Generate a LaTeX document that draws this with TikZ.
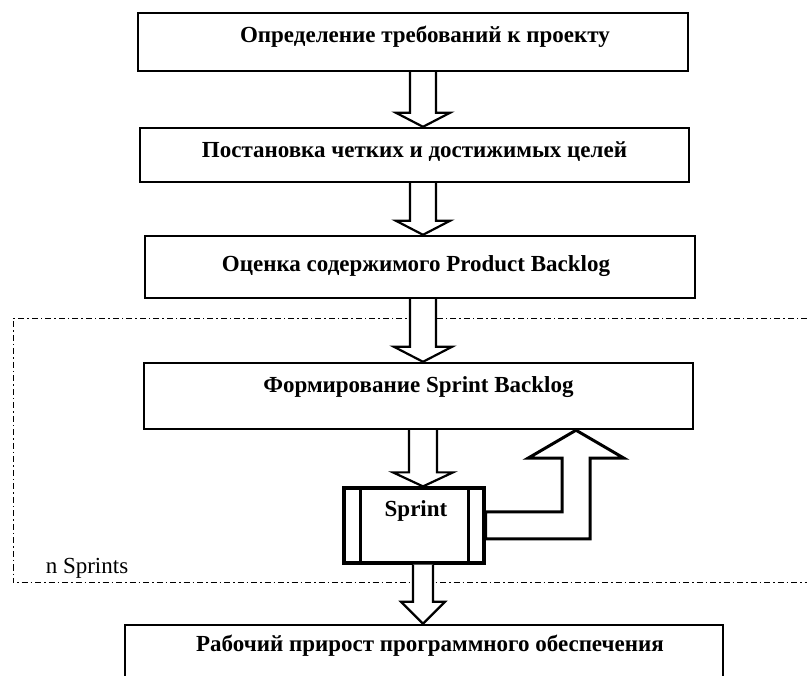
\documentclass[tikz,border=0pt]{standalone}
\usepackage{fontspec}
\setmainfont{Liberation Serif}
\usepackage{tikz}
\usetikzlibrary{calc}
\usetikzlibrary{positioning}
\tikzset{
  stage/.style = {rectangle, draw=black, line width=2.4pt, inner sep=0pt},% etap
  stagetxt/.style = {anchor=base, inner sep=0pt,
    font=\bfseries\fontsize{23}{27}\selectfont},
  sprintbox/.style = {rectangle, draw=black, line width=3.2pt, inner sep=0pt,
    minimum width=140pt, minimum height=75pt},
  blockarr/.style = {draw=black, fill=white, line width=2.2pt, line join=miter},
  sprintzone/.style = {draw=black, line width=1pt,
    dash pattern=on 6pt off 3pt on 1.5pt off 3pt}
}
% block arrow pointing down: from, to, half shaft, half head, head length
\newcommand{\blockdown}[5]{%
  \path[blockarr] ($(#1.south -| ax)+(-#3,0)$) -- ($(#2.north -| ax)+(-#3,-#5)$)
    -- ($(#2.north -| ax)+(-#4,-#5)$) -- (#2.north -| ax)
    -- ($(#2.north -| ax)+(#4,-#5)$) -- ($(#2.north -| ax)+(#3,-#5)$)
    -- ($(#1.south -| ax)+(#3,0)$);}

\begin{document}
\begin{tikzpicture}[x=1pt,y=-1pt]
\useasboundingbox (0,0) rectangle (807,676);
\clip (0,0) rectangle (807,676);
\coordinate (ax) at (423,0);
\coordinate (lx) at (576,0);

% n sprints zone
\draw[sprintzone] (807,319) -- (13,319) -- (13,583) -- (807,583);
\node [anchor=base, inner sep=0pt, font=\fontsize{23}{27}\selectfont] (nspr) at (87,573) {n Sprints};

\node [stage, minimum width=550pt, minimum height=58pt] (req) at (413,42) {};
\node [stage, minimum width=549pt, minimum height=54pt] (goal) at (414.5,155) {};
\node [stage, minimum width=550pt, minimum height=62pt] (pbl) at (420,267) {};
\node [stage, minimum width=549pt, minimum height=66pt] (sbl) at (418.5,396) {};
\node [sprintbox] (sprint) at (414,525.5) {};
\node [stage, minimum width=598pt, minimum height=70pt] (incr) at (424,660) {};

\node [stagetxt] (reqt) at ([xshift=12pt,yshift=-31pt]req.north) {Определение требований к проекту};
\node [stagetxt] (goalt) at ([yshift=-31pt]goal.north) {Постановка четких и достижимых целей};
\node [stagetxt] (pblt) at ([xshift=-4pt,yshift=-37pt]pbl.north) {Оценка содержимого Product Backlog};
\node [stagetxt] (sblt) at ([yshift=-31pt]sbl.north) {Формирование Sprint Backlog};
\node [stagetxt] (sprintt) at ([xshift=2pt,yshift=-30pt]sprint.north) {Sprint};
\node [stagetxt] (incrt) at ([xshift=6pt,yshift=-28pt]incr.north) {Рабочий прирост программного обеспечения};

% sprint side bars
\draw[line width=3.2pt] ([xshift=18pt]sprint.north west) -- ([xshift=18pt]sprint.south west);
\draw[line width=3.2pt] ([xshift=-17pt]sprint.north east) -- ([xshift=-17pt]sprint.south east);

\blockdown{req}{goal}{13}{27}{14}
\blockdown{goal}{pbl}{13}{27}{14}
\blockdown{pbl}{sbl}{13}{29}{15}
\blockdown{sbl}{sprint}{14}{30}{14}
\begin{scope}[line width=3.2pt]
\blockdown{sprint}{incr}{10}{22}{22}
\end{scope}

% back to sprint backlog
\path[blockarr, line width=3pt] ($(sprint.east)+(0,-13.5)$) -- ($(sprint.east -| lx)+(-14,-13.5)$)
  -- ($(sbl.south -| lx)+(-14,28)$) -- ($(sbl.south -| lx)+(-48,28)$) -- (sbl.south -| lx)
  -- ($(sbl.south -| lx)+(48,28)$) -- ($(sbl.south -| lx)+(14,28)$)
  -- ($(sprint.east -| lx)+(14,13.5)$) -- ($(sprint.east)+(0,13.5)$) -- cycle;
\end{tikzpicture}
\end{document}
